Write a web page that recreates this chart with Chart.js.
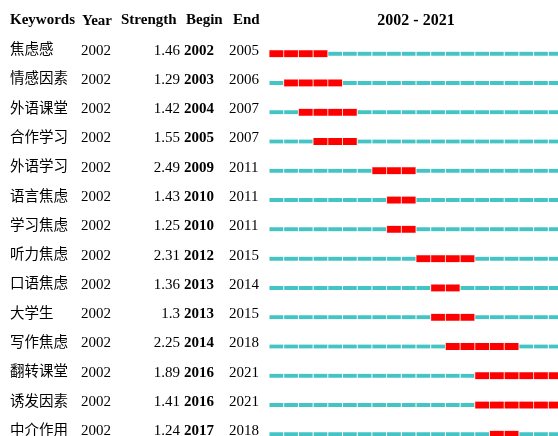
<!DOCTYPE html>
<html>
<head>
<meta charset="utf-8">
<script src="https://cdn.jsdelivr.net/npm/chart.js@4"></script>
<style>
  html, body { margin: 0; padding: 0; background: #fff; overflow: hidden; }
  #wrap { width: 558px; height: 436px; overflow: hidden; }
</style>
</head>
<body>
<div id="wrap"><canvas id="burst" width="563" height="449"></canvas></div>
<script>
// --- Data ---
const keywords = ['焦虑感', '情感因素', '外语课堂', '合作学习', '外语学习', '语言焦虑', '学习焦虑',
                  '听力焦虑', '口语焦虑', '大学生', '写作焦虑', '翻转课堂', '诱发因素', '中介作用'];
const startYears = [2002, 2002, 2002, 2002, 2002, 2002, 2002, 2002, 2002, 2002, 2002, 2002, 2002, 2002];
const strengths = [1.46, 1.29, 1.42, 1.55, 2.49, 1.43, 1.25, 2.31, 1.36, 1.3, 2.25, 1.89, 1.41, 1.24];
const begins = [2002, 2003, 2004, 2005, 2009, 2010, 2010, 2012, 2013, 2013, 2014, 2016, 2016, 2017];
const ends = [2005, 2006, 2007, 2007, 2011, 2011, 2011, 2015, 2014, 2015, 2018, 2021, 2021, 2018];
const headers = ['Keywords', 'Year', 'Strength', 'Begin', 'End'];
const firstYear = 2002, lastYear = 2021;

const CYAN = '#44C4C4', RED = '#FF0000';

// one cyan + one red dataset per year, each row gets one segment
const datasets = [];
for (let y = firstYear; y <= lastYear; y++) {
    datasets.push({
        label: 'base ' + y,
        data: keywords.map((k, i) => (y < begins[i] || y > ends[i]) ? [y, y + 1] : null),
        backgroundColor: CYAN,
        borderColor: '#fff',
        borderWidth: { left: 0.8, right: 0.8, top: 0, bottom: 0 },
        borderSkipped: false,
        barThickness: 4,
        order: 2
    });
    datasets.push({
        label: 'burst ' + y,
        data: keywords.map((k, i) => (y >= begins[i] && y <= ends[i]) ? [y, y + 1] : null),
        backgroundColor: RED,
        borderColor: '#FFD0D0',
        borderWidth: { left: 0.8, right: 0.8, top: 0, bottom: 0 },
        borderSkipped: false,
        barThickness: 7,
        order: 1
    });
}

// --- Table text (left columns + header) ---
const tablePlugin = {
    id: 'tableText',
    afterDraw(chart) {
        const ctx = chart.ctx;
        const yScale = chart.scales.y;
        const area = chart.chartArea;
        ctx.save();
        ctx.fillStyle = '#000';
        ctx.textBaseline = 'middle';

        // header
        ctx.font = 'bold 15px "Liberation Serif"';
        ctx.textAlign = 'left';
        ctx.fillText(headers[0], 10, 20);
        ctx.fillText(headers[1], 82, 21);
        ctx.fillText(headers[2], 121, 20);
        ctx.fillText(headers[3], 186, 20);
        ctx.fillText(headers[4], 233, 20);
        ctx.font = 'bold 16px "Liberation Serif"';
        ctx.textAlign = 'center';
        ctx.fillText(firstYear + ' - ' + lastYear, (area.left + chart.scales.x.getPixelForValue(lastYear + 1)) / 2, 21);

        keywords.forEach((k, i) => {
            const y = yScale.getPixelForValue(i) - 3;
            ctx.textAlign = 'left';
            ctx.font = '14.5px "Noto Sans CJK SC"';
            ctx.fillText(k, 10, y - 2);
            ctx.font = '15px "Liberation Serif"';
            ctx.fillText(String(startYears[i]), 81, y);
            ctx.textAlign = 'right';
            ctx.fillText(String(strengths[i]), 180, y);
            ctx.textAlign = 'left';
            ctx.font = 'bold 15px "Liberation Serif"';
            ctx.fillText(String(begins[i]), 184, y);
            ctx.font = '15px "Liberation Serif"';
            ctx.fillText(String(ends[i]), 229, y);
        });
        ctx.restore();
    }
};

new Chart(document.getElementById('burst').getContext('2d'), {
    type: 'bar',
    data: { labels: keywords, datasets: datasets },
    options: {
        indexAxis: 'y',
        responsive: false,
        animation: false,
        devicePixelRatio: 1,
        grouped: false,
        layout: { padding: { left: 269, top: 39, right: 0, bottom: 0 } },
        plugins: { legend: { display: false }, title: { display: false }, tooltip: { enabled: false } },
        scales: {
            x: { type: 'linear', min: firstYear, max: lastYear + 1, display: false },
            y: { type: 'category', offset: true, display: false }
        }
    },
    plugins: [tablePlugin]
});
</script>
</body>
</html>
